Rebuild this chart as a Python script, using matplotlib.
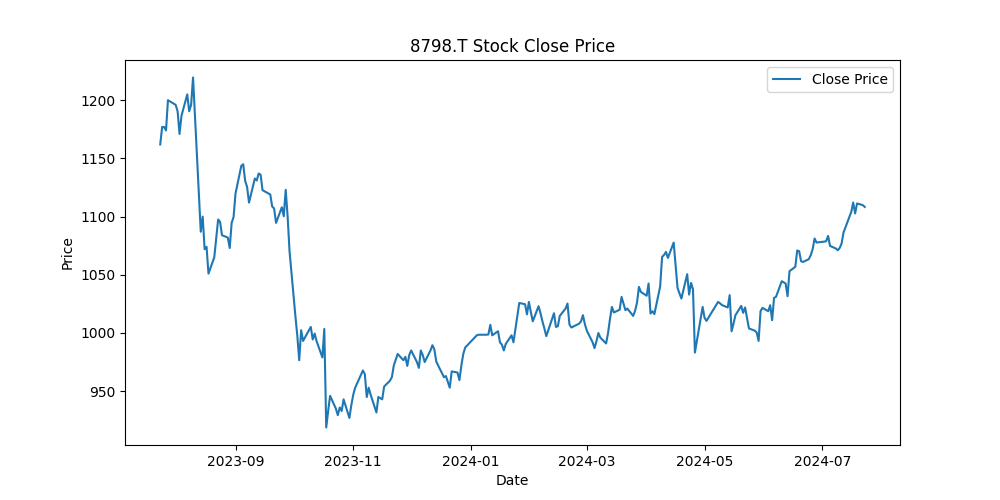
import matplotlib
matplotlib.use('Agg')
import matplotlib.pyplot as plt
import pandas as pd

ticker = '8798.T'

# trading days (TSE calendar) and close prices
dates = [
    # 2023-07 / 08
    '2023-07-24', '2023-07-25', '2023-07-26', '2023-07-27', '2023-07-28', '2023-07-31',
    '2023-08-01', '2023-08-02', '2023-08-03', '2023-08-04', '2023-08-07', '2023-08-08',
    '2023-08-09', '2023-08-10', '2023-08-14', '2023-08-15', '2023-08-16', '2023-08-17',
    '2023-08-18', '2023-08-21', '2023-08-22', '2023-08-23', '2023-08-24', '2023-08-25',
    '2023-08-28', '2023-08-29', '2023-08-30', '2023-08-31',
    # 2023-09
    '2023-09-01', '2023-09-04', '2023-09-05', '2023-09-06', '2023-09-07', '2023-09-08',
    '2023-09-11', '2023-09-12', '2023-09-13', '2023-09-14', '2023-09-15', '2023-09-19',
    '2023-09-20', '2023-09-21', '2023-09-22', '2023-09-25', '2023-09-26', '2023-09-27',
    '2023-09-28', '2023-09-29',
    # 2023-10
    '2023-10-02', '2023-10-03', '2023-10-04', '2023-10-05', '2023-10-06', '2023-10-10',
    '2023-10-11', '2023-10-12', '2023-10-13', '2023-10-16', '2023-10-17', '2023-10-18',
    '2023-10-19', '2023-10-20', '2023-10-23', '2023-10-24', '2023-10-25', '2023-10-26',
    '2023-10-27', '2023-10-30', '2023-10-31',
    # 2023-11
    '2023-11-01', '2023-11-02', '2023-11-06', '2023-11-07', '2023-11-08', '2023-11-09',
    '2023-11-10', '2023-11-13', '2023-11-14', '2023-11-15', '2023-11-16', '2023-11-17',
    '2023-11-20', '2023-11-21', '2023-11-22', '2023-11-24', '2023-11-27', '2023-11-28',
    '2023-11-29', '2023-11-30',
    # 2023-12
    '2023-12-01', '2023-12-04', '2023-12-05', '2023-12-06', '2023-12-07', '2023-12-08',
    '2023-12-11', '2023-12-12', '2023-12-13', '2023-12-14', '2023-12-15', '2023-12-18',
    '2023-12-19', '2023-12-20', '2023-12-21', '2023-12-22', '2023-12-25', '2023-12-26',
    '2023-12-27', '2023-12-28', '2023-12-29',
    # 2024-01
    '2024-01-04', '2024-01-05', '2024-01-09', '2024-01-10', '2024-01-11', '2024-01-12',
    '2024-01-15', '2024-01-16', '2024-01-17', '2024-01-18', '2024-01-19', '2024-01-22',
    '2024-01-23', '2024-01-24', '2024-01-25', '2024-01-26', '2024-01-29', '2024-01-30',
    '2024-01-31',
    # 2024-02
    '2024-02-01', '2024-02-02', '2024-02-05', '2024-02-06', '2024-02-07', '2024-02-08',
    '2024-02-09', '2024-02-13', '2024-02-14', '2024-02-15', '2024-02-16', '2024-02-19',
    '2024-02-20', '2024-02-21', '2024-02-22', '2024-02-26', '2024-02-27', '2024-02-28',
    '2024-02-29',
    # 2024-03
    '2024-03-01', '2024-03-04', '2024-03-05', '2024-03-06', '2024-03-07', '2024-03-08',
    '2024-03-11', '2024-03-12', '2024-03-13', '2024-03-14', '2024-03-15', '2024-03-18',
    '2024-03-19', '2024-03-21', '2024-03-22', '2024-03-25', '2024-03-26', '2024-03-27',
    '2024-03-28', '2024-03-29',
    # 2024-04
    '2024-04-01', '2024-04-02', '2024-04-03', '2024-04-04', '2024-04-05', '2024-04-08',
    '2024-04-09', '2024-04-10', '2024-04-11', '2024-04-12', '2024-04-15', '2024-04-16',
    '2024-04-17', '2024-04-18', '2024-04-19', '2024-04-22', '2024-04-23', '2024-04-24',
    '2024-04-25', '2024-04-26', '2024-04-30',
    # 2024-05
    '2024-05-01', '2024-05-02', '2024-05-07', '2024-05-08', '2024-05-09', '2024-05-10',
    '2024-05-13', '2024-05-14', '2024-05-15', '2024-05-16', '2024-05-17', '2024-05-20',
    '2024-05-21', '2024-05-22', '2024-05-23', '2024-05-24', '2024-05-27', '2024-05-28',
    '2024-05-29', '2024-05-30', '2024-05-31',
    # 2024-06
    '2024-06-03', '2024-06-04', '2024-06-05', '2024-06-06', '2024-06-07', '2024-06-10',
    '2024-06-11', '2024-06-12', '2024-06-13', '2024-06-14', '2024-06-17', '2024-06-18',
    '2024-06-19', '2024-06-20', '2024-06-21', '2024-06-24', '2024-06-25', '2024-06-26',
    '2024-06-27', '2024-06-28',
    # 2024-07
    '2024-07-01', '2024-07-02', '2024-07-03', '2024-07-04', '2024-07-05', '2024-07-08',
    '2024-07-09', '2024-07-10', '2024-07-11', '2024-07-12', '2024-07-16', '2024-07-17',
    '2024-07-18', '2024-07-19', '2024-07-22', '2024-07-23',
]

close = [
    # 2023-07 / 08
    1162, 1177, 1177, 1174, 1200, 1197,
    1196, 1190.5, 1171, 1186.5, 1205, 1190.5,
    1196, 1219.5, 1087, 1100, 1072, 1074,
    1051, 1065, 1081, 1097.5, 1095.5, 1084,
    1082, 1073, 1094.6, 1099.7,
    # 2023-09
    1119.8, 1143.6, 1145, 1130.7, 1125.5, 1112,
    1132.7, 1131, 1137, 1136, 1122.7, 1119,
    1108.7, 1107, 1094.6, 1108, 1100.3, 1123,
    1100, 1070,
    # 2023-10
    1015, 998, 976.6, 1002.4, 993.2, 1005.2,
    994.4, 999.5, 993, 979, 1003.5, 918.8,
    933, 946, 935, 929.4, 936, 933,
    943, 927, 938,
    # 2023-11
    947, 953, 967.8, 964.6, 945, 953,
    947, 931.7, 945, 944, 943, 954,
    959, 962, 972, 982, 976.6, 979.5,
    971.7, 981,
    # 2023-12
    985, 975, 970, 985, 981, 975,
    985, 989.5, 986, 975.5, 972, 962,
    963, 958, 953, 967, 966, 959.5,
    972, 982, 987.5,
    # 2024-01
    998, 998.5, 998.5, 998.7, 1007, 998,
    1001.5, 992, 990, 985, 990.6, 998,
    992, 1003, 1014.5, 1025.8, 1024.7, 1016,
    1026.7,
    # 2024-02
    1018, 1010, 1023, 1017, 1010, 1004,
    997.3, 1017, 1005.2, 1005.8, 1014.7, 1021,
    1025.3, 1007.3, 1004.7, 1008, 1010, 1015.3,
    1007.6,
    # 2024-03
    1002, 992, 987, 993, 1000, 996,
    991, 1000, 1012, 1022.4, 1017.6, 1020,
    1031, 1019.6, 1021, 1014.7, 1019, 1026,
    1039.6, 1035.3,
    # 2024-04
    1032, 1042.5, 1016.7, 1018.7, 1016.2, 1040,
    1065.4, 1067, 1069.7, 1064.5, 1077.7, 1058,
    1038.7, 1034, 1029.6, 1050.5, 1033, 1043,
    1037.6, 983.2, 1022.4,
    # 2024-05
    1013, 1010.4, 1024, 1026.7, 1025.5, 1024,
    1021.9, 1032.5, 1001.5, 1008, 1015.3, 1023.3,
    1017.3, 1021.9, 1013, 1003.9, 1002, 1000.4,
    993.2, 1018.7, 1021.6,
    # 2024-06
    1018.7, 1023.9, 1011, 1030.2, 1031, 1044.5,
    1043.5, 1042.5, 1031.6, 1053.1, 1056.8, 1070.9,
    1070.3, 1061.7, 1061, 1063.4, 1066.8, 1072,
    1081.2, 1077.7,
    # 2024-07
    1078.3, 1078.5, 1078.9, 1083.4, 1074.8, 1072.6,
    1071.1, 1073, 1076.9, 1086.4, 1104, 1112.1,
    1102.7, 1111.3, 1109.8, 1108.3,
]

df = pd.DataFrame({'Close': close}, index=pd.to_datetime(dates))

fig, ax = plt.subplots(figsize=(10, 5), dpi=100)
ax.plot(df.index, df['Close'], label='Close Price')
ax.set_title(f'{ticker} Stock Close Price')
ax.set_xlabel('Date')
ax.set_ylabel('Price')
ax.legend()
fig.savefig('out.png')
